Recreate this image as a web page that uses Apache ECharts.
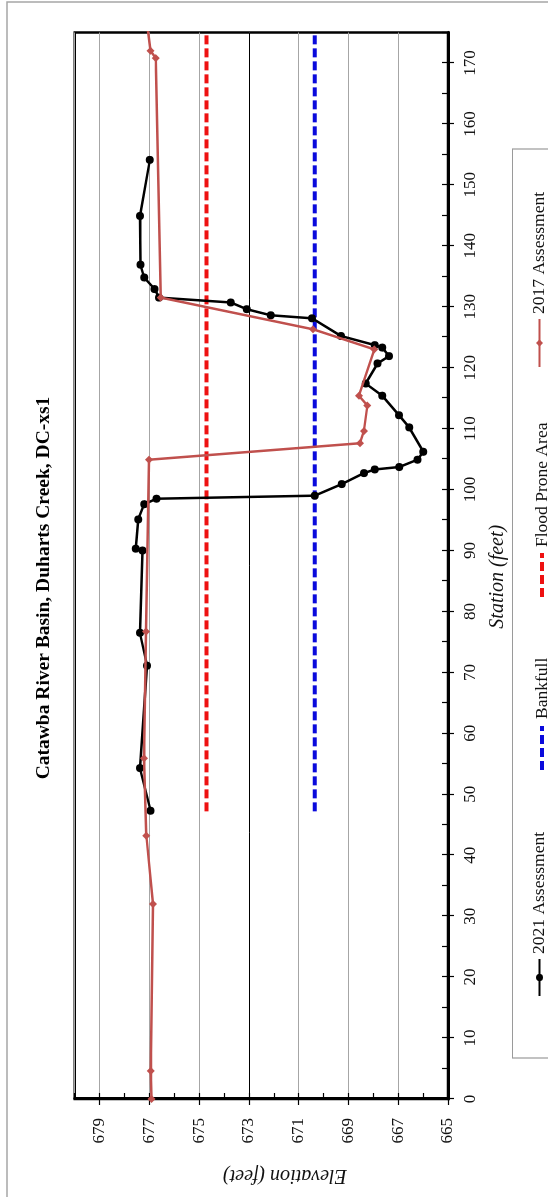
<!DOCTYPE html>
<html>
<head>
<meta charset="utf-8">
<script src="https://cdn.jsdelivr.net/npm/echarts@6/dist/echarts.min.js"></script>
<style>
html,body{margin:0;padding:0;width:548px;height:1197px;overflow:hidden;background:#fff}
#chart{position:absolute;left:0;top:0;width:1197px;height:548px;transform-origin:0 0;transform:translateY(1197px) rotate(-90deg);}
</style>
</head>
<body>
<div id="chart"></div>
<script>
// ---- data ----
const titleText = 'Catawba River Basin, Duharts Creek, DC-xs1';
const stationName = 'Station (feet)';
const elevationName = 'Elevation (feet)';

const station2021 = [47.3, 54.3, 71.1, 76.5, 90.0, 90.3, 95.1, 97.6, 98.5, 99.0, 100.9, 102.7, 103.3, 103.7, 104.9, 106.2, 110.2, 112.2, 115.4, 117.4, 120.7, 121.9, 123.3, 123.7, 125.2, 128.1, 128.6, 129.6, 130.7, 131.5, 132.9, 134.8, 136.9, 144.9, 154.1];
const elev2021 = [676.95, 677.38, 677.09, 677.38, 677.28, 677.55, 677.45, 677.21, 676.71, 670.35, 669.27, 668.38, 667.94, 666.96, 666.23, 665.99, 666.56, 666.97, 667.64, 668.31, 667.83, 667.37, 667.64, 667.94, 669.30, 670.46, 672.12, 673.09, 673.73, 676.61, 676.79, 677.21, 677.36, 677.38, 676.98];

const station2017 = [0, 4.6, 32.0, 43.2, 55.9, 76.7, 104.9, 107.6, 109.6, 113.8, 115.4, 123.0, 126.3, 131.5, 170.8, 172.0, 176.0];
const elev2017 = [676.91, 676.94, 676.85, 677.12, 677.22, 677.14, 677.01, 668.54, 668.38, 668.24, 668.58, 667.96, 670.42, 676.54, 676.74, 676.95, 677.08];

const bankfullStation = [47.2, 175];
const bankfullElev = [670.35, 670.35];
const floodStation = [47.2, 175];
const floodElev = [674.7, 674.7];

const seriesNames = ['2021 Assessment', 'Bankfull', 'Flood Prone Area', '2017 Assessment'];

// ---- chart ----
const pairs = (xs, ys) => xs.map((x, i) => [x, ys[i]]);
const FONT = 'Liberation Serif';
const DASH_ICON = 'path://M0,0h9v4h-9z M13,0h9v4h-9z M26,0h9v4h-9z M39,0h5v4h-5z';

const chart = echarts.init(document.getElementById('chart'), null, {renderer: 'canvas'});

const legendBase = (name, left, w, h, icon) => {
  const l = {
    data: [name], left: left, top: 535 - h / 2, orient: 'horizontal', padding: 0,
    itemWidth: w, itemHeight: h, selectedMode: false,
    textStyle: {fontFamily: FONT, fontSize: 17.5, color: '#111'}
  };
  if (icon) l.icon = icon;
  return l;
};

chart.setOption({
  animation: false,
  backgroundColor: '#fff',
  title: {
    text: titleText, left: 609, top: 34, textAlign: 'center', padding: 0,
    textStyle: {fontFamily: FONT, fontSize: 19.5, fontWeight: 'bold', color: '#000'}
  },
  legend: [
    legendBase(seriesNames[0], 200, 37, 9),
    legendBase(seriesNames[1], 427, 48, 4, DASH_ICON),
    legendBase(seriesNames[2], 600, 46, 4, DASH_ICON),
    legendBase(seriesNames[3], 829, 48, 9)
  ],
  graphic: [
    {type: 'rect', silent: true, z: -1, shape: {x: -2, y: 7, width: 1197, height: 580},
     style: {fill: 'none', stroke: '#a6a6a6', lineWidth: 1.5}},
    {type: 'rect', silent: true, z: -1, shape: {x: 139, y: 512.5, width: 909, height: 80},
     style: {fill: 'none', stroke: '#9a9a9a', lineWidth: 1.2}}
  ],
  grid: {left: 98, right: 32.5, top: 74.7, bottom: 100, show: true, borderColor: '#000', borderWidth: 2.5, backgroundColor: 'transparent'},
  xAxis: [
    {
      type: 'value', position: 'bottom', min: 0, max: 175, interval: 10,
      name: stationName, nameLocation: 'middle', nameGap: 40,
      nameTextStyle: {fontFamily: FONT, fontSize: 20, fontStyle: 'italic', color: '#111', padding: [0, 22, 0, 0]},
      axisLine: {show: true, lineStyle: {color: '#000', width: 3}},
      axisTick: {show: true, inside: false, length: 6, lineStyle: {color: '#000', width: 1.2}},
      axisLabel: {show: true, margin: 14, showMaxLabel: false, fontFamily: FONT, fontSize: 17, color: '#111'},
      splitLine: {show: false}
    },
    {
      type: 'value', position: 'bottom', min: 0, max: 175, interval: 5,
      axisLine: {show: false},
      axisTick: {show: true, inside: true, length: 6, lineStyle: {color: '#000', width: 1.2}},
      axisLabel: {show: false},
      splitLine: {show: false}
    }
  ],
  yAxis: [
    {
      type: 'value', position: 'left', min: 665, max: 680, interval: 2,
      name: elevationName, nameLocation: 'middle', nameGap: 66,
      nameTextStyle: {fontFamily: FONT, fontSize: 20, fontStyle: 'italic', color: '#111', padding: [0, 47, 0, 0]},
      axisLine: {show: true, lineStyle: {color: '#000', width: 3}},
      axisTick: {show: true, inside: false, length: 6, lineStyle: {color: '#000', width: 1.2}},
      axisLabel: {show: true, margin: 19, showMaxLabel: false, fontFamily: FONT, fontSize: 17, color: '#111'},
      splitLine: {show: true, lineStyle: {color: '#a6a6a6', width: 1.2}}
    },
    {
      type: 'value', position: 'left', min: 665, max: 680, interval: 1,
      axisLine: {show: false},
      axisTick: {show: true, inside: true, length: 6, lineStyle: {color: '#000', width: 1.2}},
      axisLabel: {show: false},
      splitLine: {show: false}
    }
  ],
  series: [
    {
      name: seriesNames[0], type: 'line', xAxisIndex: 0, yAxisIndex: 0, z: 4,
      data: pairs(station2021, elev2021),
      symbol: 'circle', symbolSize: 8,
      lineStyle: {color: '#000', width: 2.5},
      itemStyle: {color: '#000'}
    },
    {
      name: seriesNames[1], type: 'line', xAxisIndex: 0, yAxisIndex: 0, z: 3,
      data: pairs(bankfullStation, bankfullElev),
      symbol: 'none',
      lineStyle: {color: '#0a0adc', width: 4, type: [9, 4]},
      itemStyle: {color: '#0a0adc'},
      markLine: {
        silent: true, symbol: 'none', label: {show: false}, z: 1,
        lineStyle: {color: '#000', width: 1, type: 'solid'},
        data: [{yAxis: 673}]
      }
    },
    {
      name: seriesNames[2], type: 'line', xAxisIndex: 0, yAxisIndex: 0, z: 3,
      data: pairs(floodStation, floodElev),
      symbol: 'none',
      lineStyle: {color: '#ee1111', width: 4, type: [9, 4]},
      itemStyle: {color: '#ee1111'}
    },
    {
      name: seriesNames[3], type: 'line', xAxisIndex: 0, yAxisIndex: 0, z: 5,
      data: pairs(station2017, elev2017),
      symbol: 'diamond', symbolSize: 8, clip: true,
      lineStyle: {color: '#c0504d', width: 2.5},
      itemStyle: {color: '#c0504d'}
    }
  ]
});
</script>
</body>
</html>
